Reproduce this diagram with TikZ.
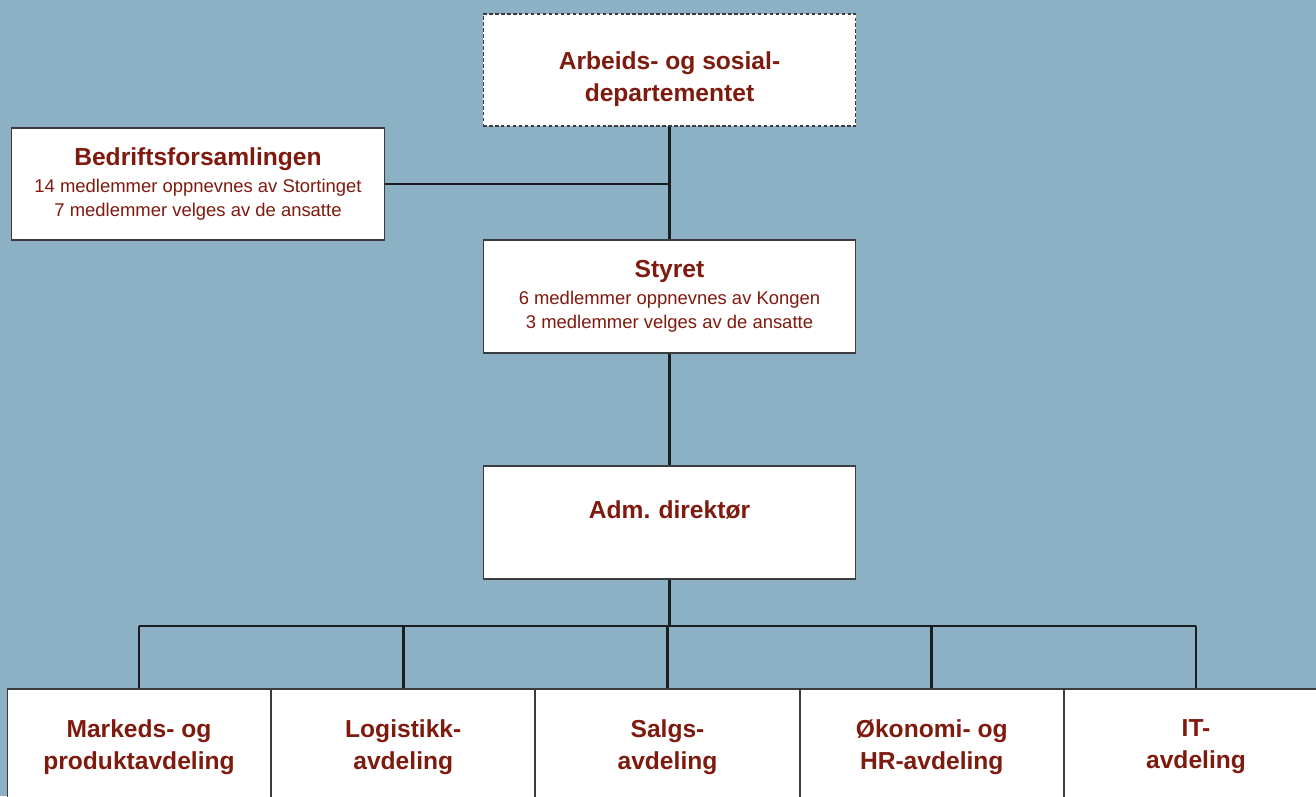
\documentclass[tikz,border=0pt]{standalone}
\usepackage{fontspec}
\setmainfont{Liberation Sans}
\usetikzlibrary{positioning,calc}
\definecolor{orgSky} {HTML}{8CB0C4}
\definecolor{orgRed} {HTML}{7E1A0E}
\definecolor{orgInk} {HTML}{1C1D1F}
\definecolor{orgEdge}{HTML}{3A3C3E}
\newcommand{\unitTitle}[1]{{\fontsize{14}{16}\selectfont\bfseries #1}}

\begin{document}
\begin{tikzpicture}[x=0.02cm,y=-0.02cm,
    unit/.style={draw=orgEdge,fill=white,line width=0.6pt,text=orgRed,
                 align=center,font=\fontsize{10.5}{13.6}\selectfont},
    boldunit/.style={unit,font=\fontsize{14}{18.2}\selectfont\bfseries},
    dept/.style={boldunit,minimum width=5.265cm,minimum height=2.32cm,inner sep=0pt},
    link/.style={draw=orgInk,line width=1.5pt}]
    \fill[orgSky] (0,0) rectangle (1316,796);
    \useasboundingbox (0,0) rectangle (1316,796);

    % top of the hierarchy
    \node[boldunit,dashed,dash pattern=on 2pt off 1.4pt,minimum width=7.46cm,
          minimum height=2.24cm] (ministry) at (669.5,70)
      {\rule{0pt}{5pt}\\[-3pt]Arbeids- og sosial-\\departementet};

    \node[unit,minimum width=7.48cm,minimum height=2.24cm] (assembly) at (198,184)
      {\unitTitle{Bedriftsforsamlingen}\\[2pt]
       14 medlemmer oppnevnes av Stortinget\\
       7 medlemmer velges av de ansatte};

    \node[unit,minimum width=7.46cm,minimum height=2.26cm] (board) at (669.5,296.5)
      {\unitTitle{Styret}\\[2pt]
       6 medlemmer oppnevnes av Kongen\\
       3 medlemmer velges av de ansatte};

    \node[boldunit,inner sep=0pt,text width=7.46cm,text height=1.04cm,
          text depth=1.22cm] (ceo) at (669.5,522.5) {Adm.\ direktør};

    % departments
    \node[dept] (marked) at (139,747) {Markeds- og\\produktavdeling};
    \node[dept,right=0pt of marked] (logistikk) {Logistikk-\\avdeling};
    \node[dept,right=0pt of logistikk] (salg) {Salgs-\\avdeling};
    \node[dept,right=0pt of salg] (okonomi) {Økonomi- og\\HR-avdeling};
    \node[dept,right=0pt of okonomi] (it) {IT-\\avdeling};

    % connectors
    \draw[link] (ministry) -- (board);
    \draw[link] (assembly) -- (assembly -| ministry);
    \draw[link] (board) -- (ceo);
    \coordinate (bus) at (669.5,626);
    \draw[link] (ceo) -- (bus);
    \draw[link] (marked.north |- bus) -- (it.north |- bus);
    \foreach \d in {marked,logistikk,salg,okonomi,it}
      \draw[link] (\d.north |- bus) -- (\d.north);
\end{tikzpicture}
\end{document}
